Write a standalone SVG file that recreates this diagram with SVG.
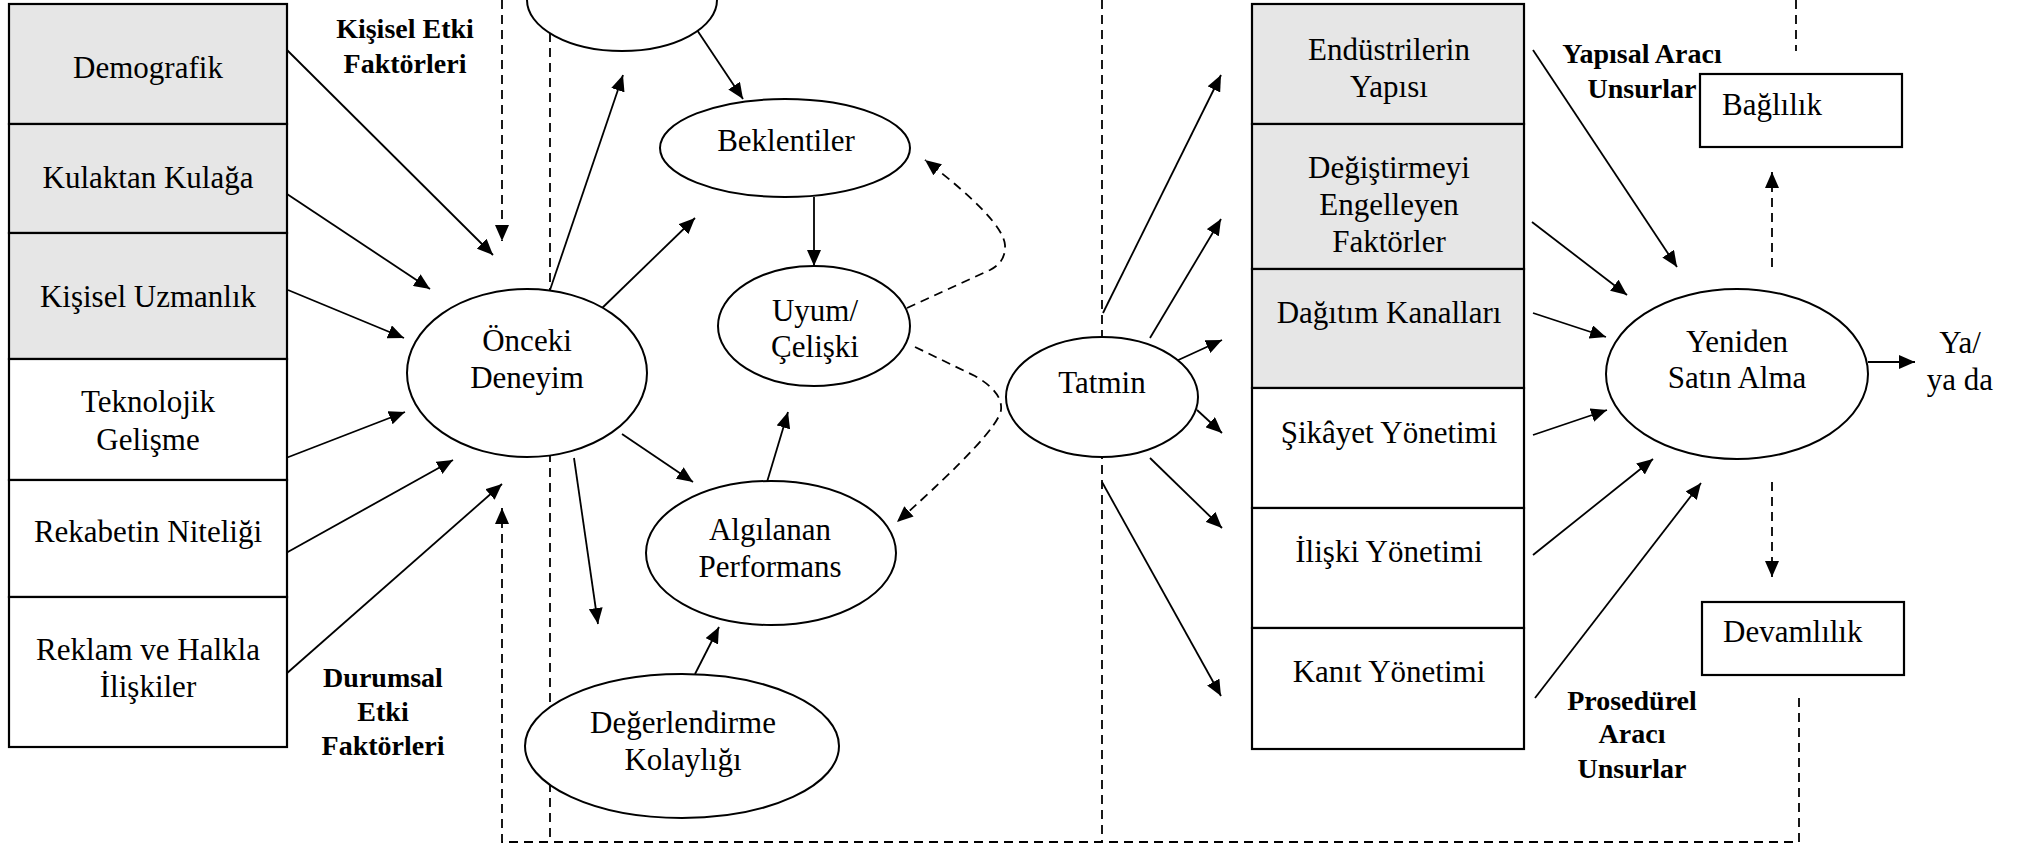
<svg xmlns="http://www.w3.org/2000/svg" width="2027" height="845" viewBox="0 0 2027 845">
<style>
.box{fill:#fff;stroke:#000;stroke-width:2.2}
.gray{fill:#e6e6e6}
.ell{fill:#fff;stroke:#000;stroke-width:2}
text{font-family:"Liberation Serif","Times New Roman",serif;font-size:31px;text-anchor:middle;fill:#000}
.b{font-weight:bold;font-size:28px}
.st{text-anchor:start}
.ln{stroke:#000;stroke-width:1.8;fill:none}
.arr{marker-end:url(#ah)}
.dash{stroke-dasharray:9 6}
</style>
<defs>
<marker id="ah" viewBox="0 0 16 14" refX="16" refY="7" markerWidth="16" markerHeight="14" markerUnits="userSpaceOnUse" orient="auto"><path d="M0,0 L16,7 L0,14 z" fill="#000"/></marker>
</defs>
<rect width="2027" height="845" fill="#fff"/>
<g id="connectors">
<g class="ln arr">
<line x1="287" y1="50" x2="493" y2="255"/>
<line x1="287" y1="194" x2="430" y2="289"/>
<line x1="288" y1="290" x2="404" y2="338"/>
<line x1="286" y1="458" x2="405" y2="412"/>
<line x1="286" y1="553" x2="453" y2="460"/>
<line x1="286" y1="674" x2="502" y2="484"/>
<line x1="550" y1="290" x2="623" y2="75"/>
<line x1="598" y1="312" x2="695" y2="218"/>
<line x1="695" y1="27" x2="743" y2="99"/>
<line x1="814" y1="197" x2="814" y2="266"/>
<line x1="622" y1="434" x2="693" y2="482"/>
<line x1="574" y1="458" x2="598" y2="624"/>
<line x1="767" y1="482" x2="788" y2="412"/>
<line x1="695" y1="674" x2="719" y2="627"/>
<line x1="1103" y1="313" x2="1221" y2="75"/>
<line x1="1150" y1="338" x2="1221" y2="219"/>
<line x1="1174" y1="362" x2="1222" y2="340"/>
<line x1="1197" y1="410" x2="1222" y2="433"/>
<line x1="1150" y1="458" x2="1222" y2="528"/>
<line x1="1102" y1="482" x2="1221" y2="696"/>
<line x1="1533" y1="50" x2="1677" y2="267"/>
<line x1="1532" y1="222" x2="1627" y2="295"/>
<line x1="1533" y1="313" x2="1606" y2="337"/>
<line x1="1533" y1="435" x2="1607" y2="410"/>
<line x1="1533" y1="555" x2="1653" y2="459"/>
<line x1="1535" y1="698" x2="1701" y2="483"/>
<line x1="1868" y1="362" x2="1915" y2="362"/>
</g>
<g class="ln dash">
<line x1="550" y1="33" x2="550" y2="842"/>
<line x1="1102" y1="0" x2="1102" y2="842"/>
<line x1="1796" y1="0" x2="1796" y2="51"/>
<line class="arr" x1="502" y1="0" x2="502" y2="241"/>
<line class="arr" x1="1772" y1="267" x2="1772" y2="172"/>
<line class="arr" x1="1772" y1="482" x2="1772" y2="577"/>
<path class="arr" d="M1799,698 V842 H502 V508"/>
<path class="arr" d="M907,308 L990,270 Q1006,262 1005,245 Q1003,220 925,160"/>
<path class="arr" d="M915,347 L975,376 Q1003,392 1001,410 Q998,432 897,522"/>
</g>
</g>
<g id="demografik"><rect class="box gray" x="9" y="4" width="278" height="120"/><text x="148" y="78">Demografik</text></g>
<g id="kulaktan"><rect class="box gray" x="9" y="124" width="278" height="109"/><text x="148" y="188">Kulaktan Kulağa</text></g>
<g id="uzmanlik"><rect class="box gray" x="9" y="233" width="278" height="126"/><text x="148" y="307">Kişisel Uzmanlık</text></g>
<g id="teknolojik"><rect class="box" x="9" y="359" width="278" height="121"/><text x="148" y="412">Teknolojik</text><text x="148" y="450">Gelişme</text></g>
<g id="rekabet"><rect class="box" x="9" y="480" width="278" height="117"/><text x="148" y="542">Rekabetin Niteliği</text></g>
<g id="reklam"><rect class="box" x="9" y="597" width="278" height="150"/><text x="148" y="660">Reklam ve Halkla</text><text x="148" y="697">İlişkiler</text></g>
<g id="endustri"><rect class="box gray" x="1252" y="4" width="272" height="120"/><text x="1389" y="60">Endüstrilerin</text><text x="1389" y="97">Yapısı</text></g>
<g id="degistirme"><rect class="box gray" x="1252" y="124" width="272" height="145"/><text x="1389" y="178">Değiştirmeyi</text><text x="1389" y="215">Engelleyen</text><text x="1389" y="252">Faktörler</text></g>
<g id="dagitim"><rect class="box gray" x="1252" y="269" width="272" height="119"/><text x="1389" y="323">Dağıtım Kanalları</text></g>
<g id="sikayet"><rect class="box" x="1252" y="388" width="272" height="120"/><text x="1389" y="443">Şikâyet Yönetimi</text></g>
<g id="iliski"><rect class="box" x="1252" y="508" width="272" height="120"/><text x="1389" y="562">İlişki Yönetimi</text></g>
<g id="kanit"><rect class="box" x="1252" y="628" width="272" height="121"/><text x="1389" y="682">Kanıt Yönetimi</text></g>
<g id="baglilik"><rect class="box" x="1700" y="74" width="202" height="73"/><text class="st" x="1722" y="115">Bağlılık</text></g>
<g id="devamlilik"><rect class="box" x="1702" y="602" width="202" height="73"/><text class="st" x="1723" y="642">Devamlılık</text></g>
<g id="top-ellipse"><ellipse class="ell" cx="622" cy="0" rx="95" ry="51"/></g>
<g id="onceki"><ellipse class="ell" cx="527" cy="373" rx="120" ry="84"/><text x="527" y="351">Önceki</text><text x="527" y="388">Deneyim</text></g>
<g id="beklentiler"><ellipse class="ell" cx="785" cy="148" rx="125" ry="49"/><text x="786" y="151">Beklentiler</text></g>
<g id="uyum"><ellipse class="ell" cx="814" cy="326" rx="96" ry="60"/><text x="815" y="321">Uyum/</text><text x="815" y="357">Çelişki</text></g>
<g id="algilanan"><ellipse class="ell" cx="771" cy="553" rx="125" ry="72"/><text x="770" y="540">Algılanan</text><text x="770" y="577">Performans</text></g>
<g id="degerlendirme"><ellipse class="ell" cx="682" cy="746" rx="157" ry="72"/><text x="683" y="733">Değerlendirme</text><text x="683" y="770">Kolaylığı</text></g>
<g id="tatmin"><ellipse class="ell" cx="1102" cy="397" rx="96" ry="60"/><text x="1102" y="393">Tatmin</text></g>
<g id="yeniden"><ellipse class="ell" cx="1737" cy="374" rx="131" ry="85"/><text x="1737" y="352">Yeniden</text><text x="1737" y="388">Satın Alma</text></g>
<g id="ya-da"><text x="1960" y="353">Ya/</text><text x="1960" y="390">ya da</text></g>
<g id="kisisel-label"><text class="b" x="405" y="38">Kişisel Etki</text><text class="b" x="405" y="73">Faktörleri</text></g>
<g id="durumsal-label"><text class="b" x="383" y="687">Durumsal</text><text class="b" x="383" y="721">Etki</text><text class="b" x="383" y="755">Faktörleri</text></g>
<g id="yapisal-label"><text class="b" x="1642" y="63">Yapısal Aracı</text><text class="b" x="1642" y="98">Unsurlar</text></g>
<g id="prosedurel-label"><text class="b" x="1632" y="710">Prosedürel</text><text class="b" x="1632" y="743">Aracı</text><text class="b" x="1632" y="778">Unsurlar</text></g>
</svg>
